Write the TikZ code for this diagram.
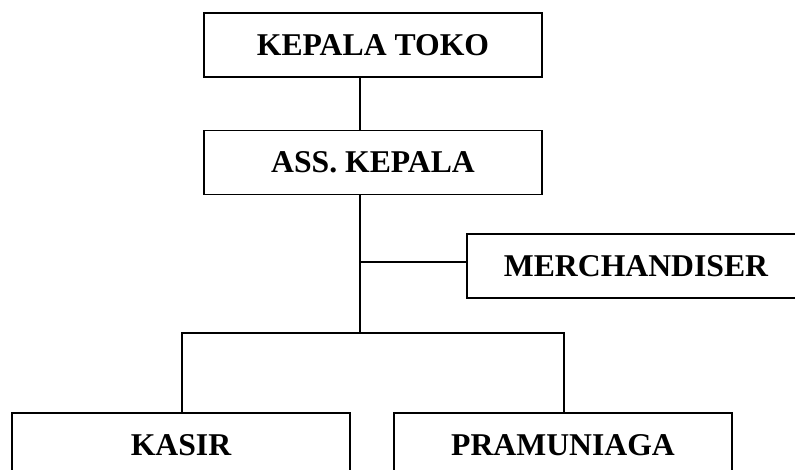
\documentclass[tikz,border=0pt]{standalone}
\usepackage{fontspec}
\setmainfont{Liberation Serif}
\begin{document}
\begin{tikzpicture}[x=1pt,y=1pt,
  box/.style={draw=black,line width=1.9pt,rectangle,minimum width=338pt,minimum height=64pt,inner sep=0pt,
    font=\fontsize{31.7}{36}\selectfont\bfseries},
  conn/.style={draw=black,line width=1.9pt}]
\useasboundingbox (0,0) rectangle (795,470);
\clip (0,0) rectangle (795,470);
\fill[white] (0,0) rectangle (795,470);
\node[box] (kt) at (373,425) {KEPALA TOKO};
\node[box] (ak) at (373,307.5) {ASS. KEPALA};
\node[box] (m) at (636,204) {MERCHANDISER};
\node[box] (ks) at (181,25) {KASIR};
\node[box] (pr) at (563,25) {PRAMUNIAGA};
\coordinate (jm) at (360,207.7);
\coordinate (bus) at (360,137.3);
\coordinate (bl) at (182,137.3);
\coordinate (br) at (564,137.3);
\draw[conn] (kt.south -| jm) -- (ak.north -| jm);
\draw[conn] (ak.south -| jm) -- (bus);
\draw[conn] (jm) -- (jm -| m.west);
\draw[conn] (ks.north -| bl) -- (bl) -- (br) -- (pr.north -| br);
\end{tikzpicture}
\end{document}
